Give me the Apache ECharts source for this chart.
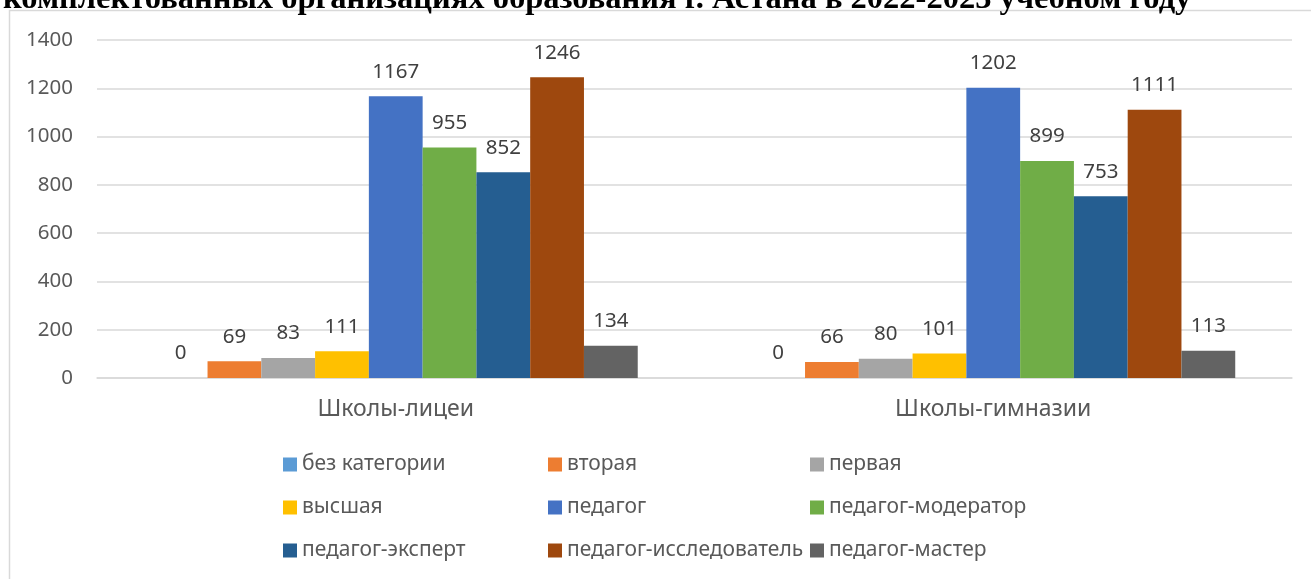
<!DOCTYPE html>
<html>
<head>
<meta charset="utf-8">
<script src="https://cdn.jsdelivr.net/npm/echarts@6/dist/echarts.min.js"></script>
<style>
  html, body { margin: 0; padding: 0; background: #fff; }
  #chart { width: 1311px; height: 579px; }
</style>
</head>
<body>
<div id="chart"></div>
<script>
var titleText = 'комплектованных организациях образования г. Астана в 2022-2023 учебном году';
var categories = ['Школы-лицеи', 'Школы-гимназии'];
var seriesNames = ['без категории', 'вторая', 'первая', 'высшая', 'педагог',
    'педагог-модератор', 'педагог-эксперт', 'педагог-исследователь', 'педагог-мастер'];
var colors = ['#5B9BD5', '#ED7D31', '#A5A5A5', '#FFC000', '#4472C4',
    '#70AD47', '#255E91', '#9E480E', '#636363'];

var bezKategorii = [0, 0];
var vtoraya = [69, 66];
var pervaya = [83, 80];
var vysshaya = [111, 101];
var pedagog = [1167, 1202];
var moderator = [955, 899];
var ekspert = [852, 753];
var issledovatel = [1246, 1111];
var master = [134, 113];

var yTicks = [0, 200, 400, 600, 800, 1000, 1200, 1400];

var values = [bezKategorii, vtoraya, pervaya, vysshaya, pedagog,
    moderator, ekspert, issledovatel, master];

var font = "'Noto Sans', sans-serif";

var series = [];
for (let i = 0; i < seriesNames.length; i++) {
    series.push({
        name: seriesNames[i],
        type: 'bar',
        data: values[i],
        barGap: '0%',
        barCategoryGap: '19%',
        itemStyle: { color: colors[i] },
        label: {
            show: true,
            position: 'top',
            distance: 14,
            fontFamily: font,
            fontSize: 20.5,
            color: '#404040'
        }
    });
}

// legend is three columns in the picture
var legendCols = [
    { left: 278, data: ['без категории', 'высшая', 'педагог-эксперт'] },
    { left: 543, data: ['вторая', 'педагог', 'педагог-исследователь'] },
    { left: 805, data: ['первая', 'педагог-модератор', 'педагог-мастер'] }
];
var legends = legendCols.map(function(c) {
    return {
        orient: 'vertical',
        left: c.left,
        top: 449,
        itemGap: 22,
        itemWidth: 14,
        itemHeight: 14,
        icon: 'rect',
        data: c.data,
        selectedMode: false,
        textStyle: { fontFamily: font, fontSize: 21, color: '#595959' }
    };
});

var chart = echarts.init(document.getElementById('chart'));
chart.setOption({
    animation: false,
    title: {
        text: titleText,
        left: -2,
        top: -22,
        textStyle: {
            fontFamily: "'Liberation Serif', serif",
            fontWeight: 'bold',
            fontSize: 32.5,
            color: '#000'
        }
    },
    graphic: [{
        type: 'rect',
        shape: { x: 9.5, y: 10.5, width: 1400, height: 700 },
        style: { fill: null, stroke: '#d9d9d9', lineWidth: 1.5 },
        silent: true,
        z: -1
    }],
    grid: { left: 97, right: 19, top: 40, bottom: 201 },
    legend: legends,
    xAxis: {
        type: 'category',
        data: categories,
        axisTick: { show: false },
        axisLine: { lineStyle: { color: '#d9d9d9', width: 1.5 } },
        axisLabel: { fontFamily: font, fontSize: 23, color: '#595959', margin: 20 }
    },
    yAxis: {
        type: 'value',
        min: yTicks[0],
        max: yTicks[yTicks.length - 1],
        interval: 200,
        axisLine: { show: false },
        axisTick: { show: false },
        splitLine: { lineStyle: { color: '#d9d9d9', width: 1.5 } },
        axisLabel: {
            fontFamily: font, fontSize: 20.5, color: '#595959', margin: 24,
            formatter: function(v) { return String(v); }
        }
    },
    series: series
});
</script>
</body>
</html>
